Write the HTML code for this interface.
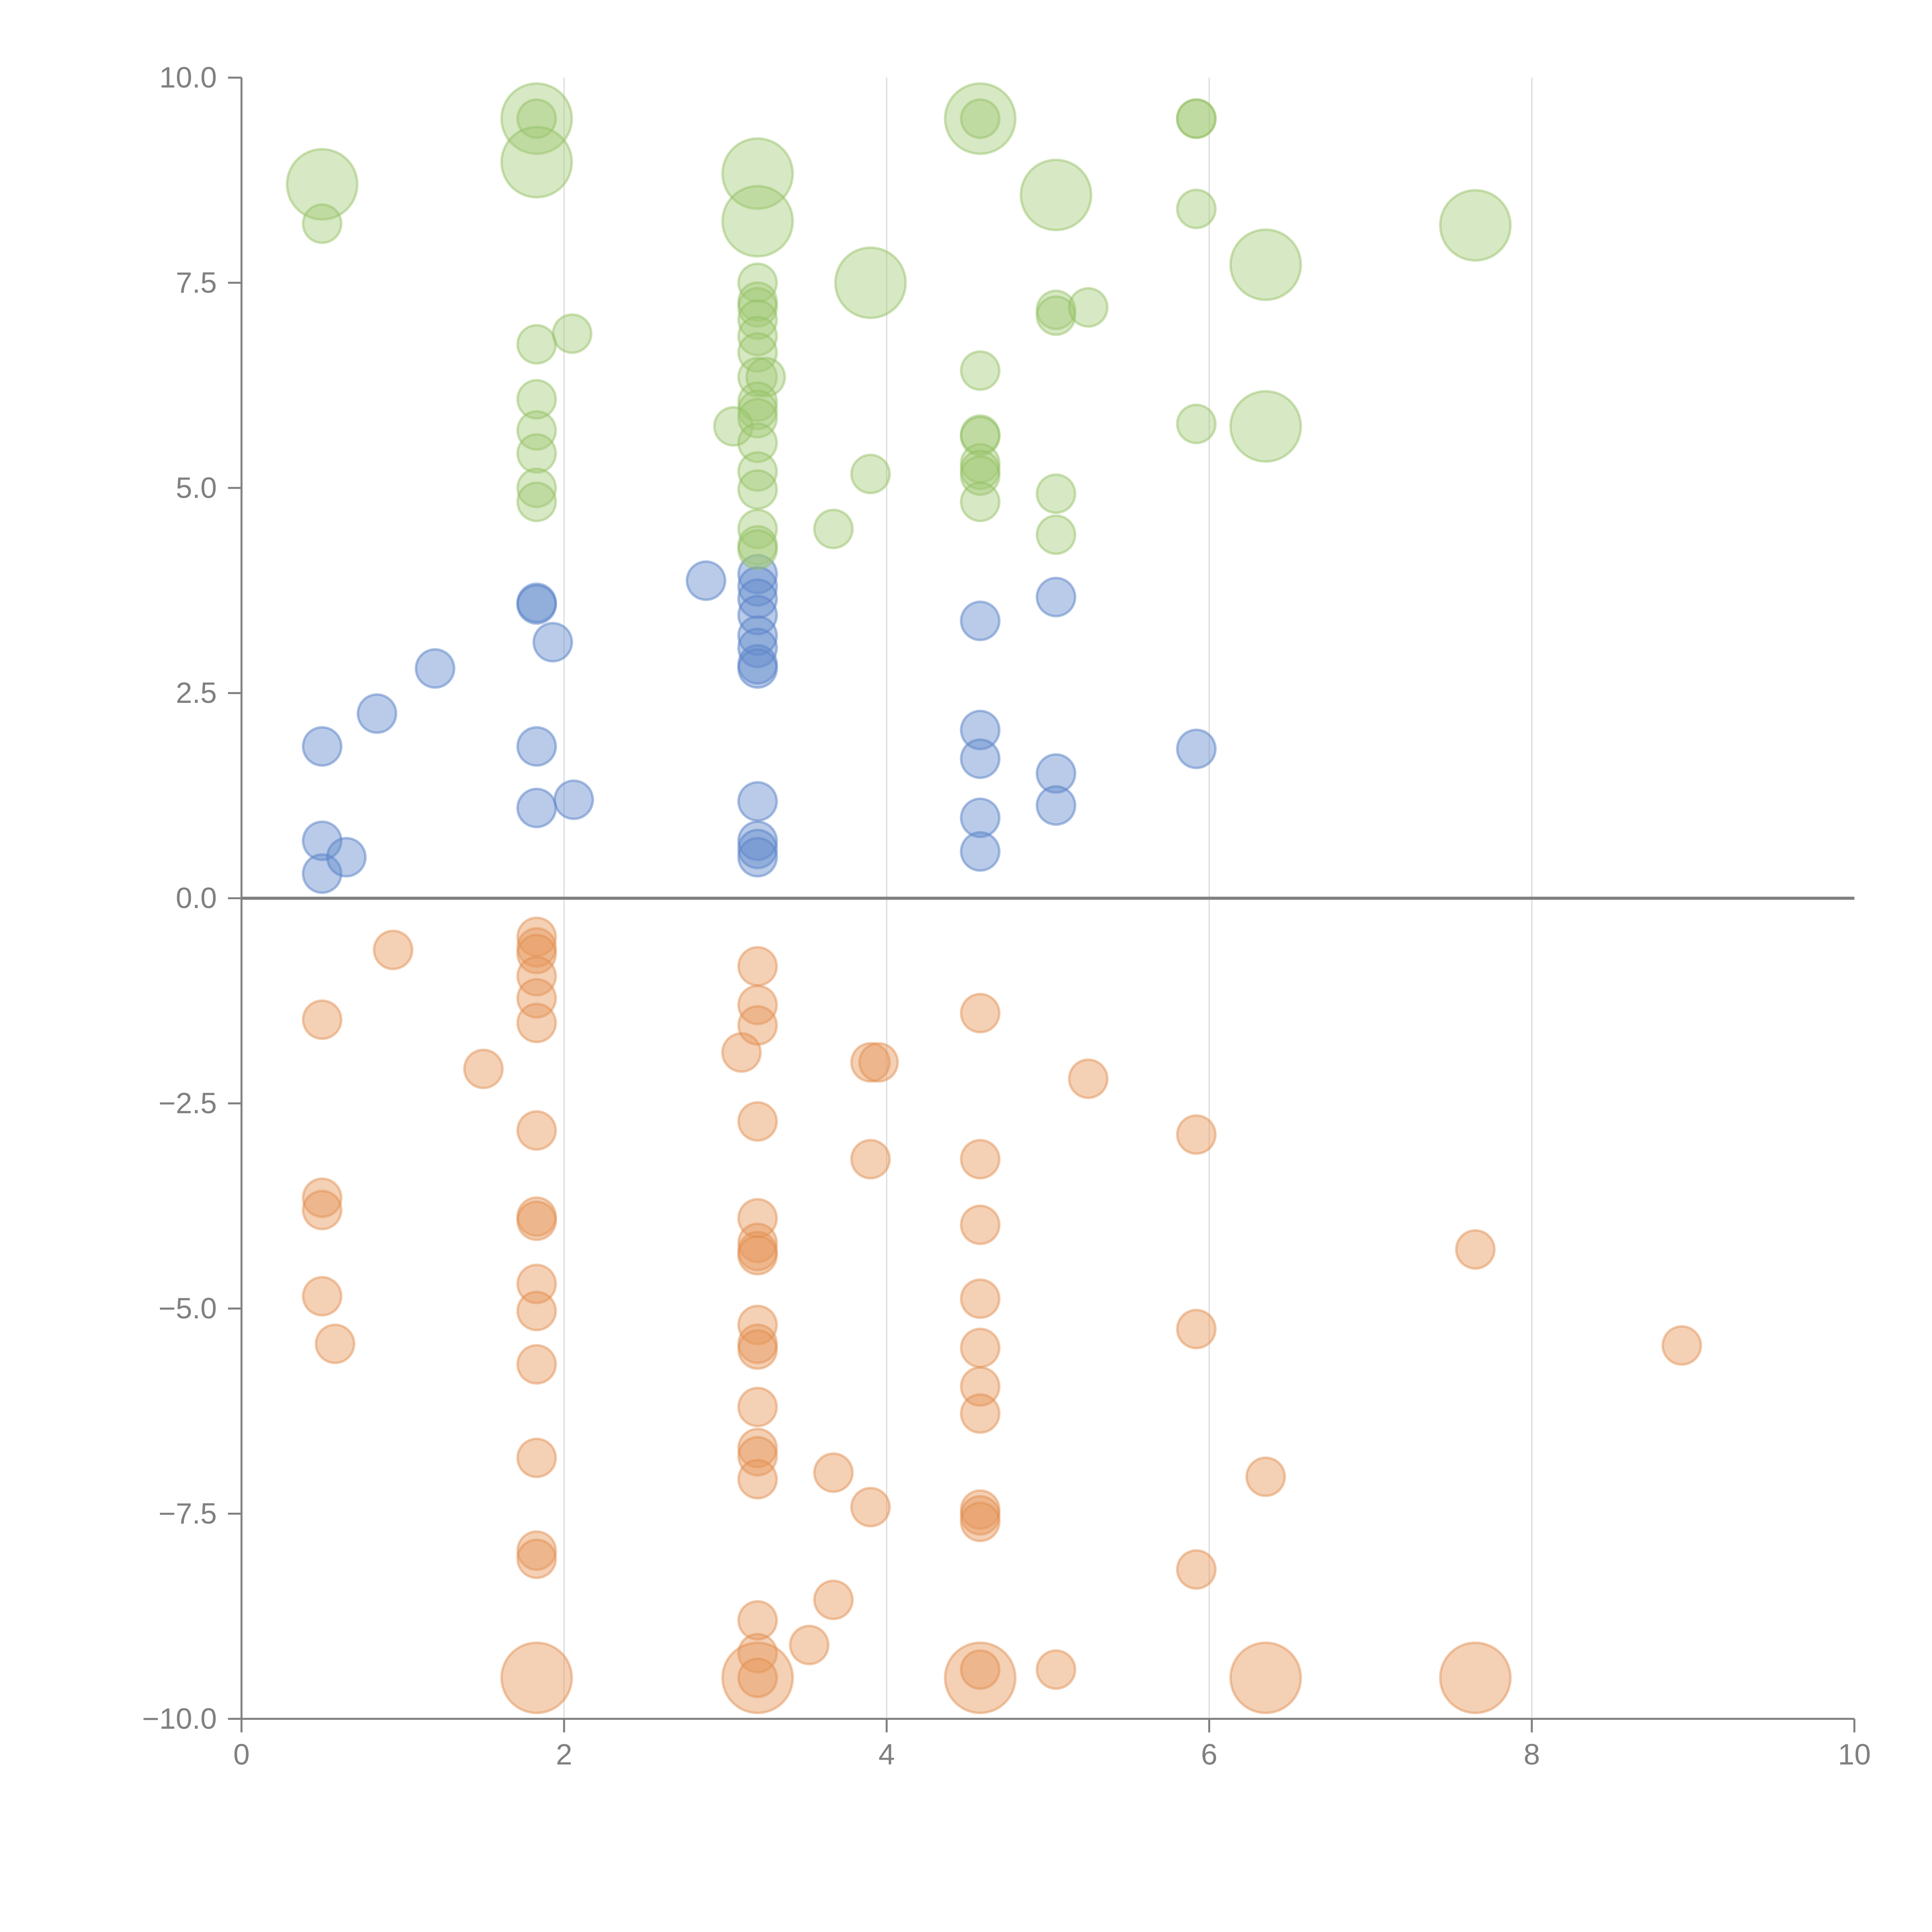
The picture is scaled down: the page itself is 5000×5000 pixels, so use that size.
<!DOCTYPE html>
<html><head><meta charset="utf-8"><style>
html,body{margin:0;padding:0;background:#fff;}
svg{display:block;}
text{font-family:"Liberation Sans",Arial,sans-serif;fill:#808080;}
</style></head><body>
<svg id="chart" width="5000" height="5000" viewBox="0 0 1568 1568" xmlns="http://www.w3.org/2000/svg">
<g id="grid"></g>
<g id="axes"></g>
<g id="marks"></g>
</svg>
<script>
const xTicks=[0,2,4,6,8,10];
const yTicks=[-10,-7.5,-5,-2.5,0,2.5,5,7.5,10];
const yTickLabels=["\u221210.0","\u22127.5","\u22125.0","\u22122.5","0.0","2.5","5.0","7.5","10.0"];
const greenX=[0.5,0.5,1.83,1.83,1.83,1.83,2.05,1.83,1.83,1.83,1.83,1.83,3.2,3.2,3.2,3.2,3.2,3.2,3.2,3.2,3.2,3.25,3.2,3.2,3.05,3.2,3.2,3.2,3.2,3.2,3.2,3.2,3.9,3.9,3.67,4.58,4.58,4.58,4.58,4.58,4.58,4.58,4.58,4.58,5.05,5.05,5.05,5.25,5.05,5.05,5.92,5.92,5.92,5.92,6.35,6.35,7.65];
const greenY=[8.7,8.22,9.5,9.5,8.97,6.75,6.88,6.08,5.7,5.42,5.0,4.83,8.83,8.25,7.5,7.27,7.2,7.05,6.85,6.65,6.35,6.35,6.05,5.95,5.75,5.85,5.55,5.2,4.98,4.5,4.3,4.25,7.5,5.17,4.5,9.5,9.5,6.43,5.65,5.63,5.3,5.22,5.15,4.83,8.57,7.17,7.1,7.2,4.93,4.43,9.5,9.5,8.4,5.78,7.72,5.75,8.2];
const greenBig=[1,0,1,0,1,0,0,0,0,0,0,0,1,1,0,0,0,0,0,0,0,0,0,0,0,0,0,0,0,0,0,0,1,0,0,1,0,0,0,0,0,0,0,0,1,0,0,0,0,0,0,0,0,0,1,1,1];
const blueX=[0.5,0.5,0.5,0.65,0.84,1.2,1.83,1.83,1.93,1.83,1.83,2.06,2.88,3.2,3.2,3.2,3.2,3.2,3.2,3.2,3.2,3.2,3.2,3.2,3.2,4.58,4.58,4.58,4.58,4.58,5.05,5.05,5.05,5.92];
const blueY=[1.85,0.7,0.3,0.5,2.25,2.8,3.6,3.58,3.12,1.85,1.1,1.2,3.87,3.95,3.8,3.65,3.45,3.2,3.05,2.85,2.8,1.18,0.7,0.6,0.5,3.38,2.05,1.7,0.98,0.57,3.67,1.52,1.13,1.82];
const orangeX=[0.5,0.5,0.5,0.5,0.58,0.94,1.5,1.83,1.83,1.83,1.83,1.83,1.83,1.83,1.83,1.83,1.83,1.83,1.83,1.83,1.83,1.83,1.83,3.2,3.2,3.2,3.1,3.2,3.2,3.2,3.2,3.2,3.2,3.2,3.2,3.2,3.2,3.2,3.2,3.2,3.2,3.2,3.2,3.52,3.67,3.67,3.9,3.9,3.9,3.95,4.58,4.58,4.58,4.58,4.58,4.58,4.58,4.58,4.58,4.58,4.58,4.58,5.05,5.25,5.92,5.92,5.92,6.35,6.35,7.65,7.65,8.93];
const orangeY=[-1.48,-3.65,-3.8,-4.85,-5.43,-0.63,-2.08,-0.47,-0.6,-0.68,-0.95,-1.22,-1.52,-2.83,-3.88,-3.93,-4.7,-5.03,-5.68,-6.82,-7.95,-8.05,-9.5,-0.83,-1.3,-1.55,-1.88,-2.72,-3.9,-4.2,-4.3,-4.35,-5.2,-5.43,-5.5,-6.2,-6.7,-6.8,-7.08,-8.8,-9.2,-9.5,-9.5,-9.1,-8.55,-7.0,-7.42,-3.18,-2.0,-2.0,-1.4,-3.18,-3.98,-4.88,-5.48,-5.95,-6.28,-7.45,-7.52,-7.6,-9.5,-9.4,-9.4,-2.2,-2.88,-5.25,-8.18,-7.05,-9.5,-4.28,-9.5,-5.45];
const orangeBig=[0,0,0,0,0,0,0,0,0,0,0,0,0,0,0,0,0,0,0,0,0,0,1,0,0,0,0,0,0,0,0,0,0,0,0,0,0,0,0,0,0,1,0,0,0,0,0,0,0,0,0,0,0,0,0,0,0,0,0,0,1,0,0,0,0,0,0,0,1,0,1,0];

const NS="http://www.w3.org/2000/svg";
const X0=196,X1=1505,Y0=1395,Y1=63;
function sx(v){return X0+(v-0)/(10-0)*(X1-X0);}
function sy(v){return Y0-(v+10)/20*(Y0-Y1);}
function mk(tag,attrs,parent){const e=document.createElementNS(NS,tag);for(const k in attrs)e.setAttribute(k,attrs[k]);parent.appendChild(e);return e;}
const grid=document.getElementById('grid'),axes=document.getElementById('axes'),marks=document.getElementById('marks');
xTicks.forEach(t=>{if(t>0&&t<10){const l=mk('line',{x1:sx(t),x2:sx(t),y1:Y1,y2:Y0,stroke:'#dcdcdc','stroke-width':1},grid);

}});
const ya=mk('line',{x1:X0,x2:X0,y1:Y1,y2:Y0,stroke:'#808080','stroke-width':1.6},axes);


const xa=mk('line',{x1:X0,x2:X1,y1:Y0,y2:Y0,stroke:'#808080','stroke-width':1.6},axes);


const z=mk('line',{x1:X0,x2:X1,y1:sy(0),y2:sy(0),stroke:'#808080','stroke-width':2.5},axes);


yTicks.forEach((t,i)=>{mk('line',{x1:X0-11,x2:X0,y1:sy(t),y2:sy(t),stroke:'#808080','stroke-width':1.6},axes);
const tx=mk('text',{x:X0-20,y:sy(t)+8,'text-anchor':'end','font-size':24},axes);tx.textContent=yTickLabels[i];

});
xTicks.forEach(t=>{mk('line',{x1:sx(t),x2:sx(t),y1:Y0,y2:Y0+11,stroke:'#808080','stroke-width':1.6},axes);
const tx=mk('text',{x:sx(t),y:Y0+37,'text-anchor':'middle','font-size':24},axes);tx.textContent=String(t);

});
function series(xs,ys,big,fill,stroke,name){
  const g=mk('g',{},marks);
  
  
  xs.forEach((x,i)=>{const r=(big&&big[i])?28.5:15.5;
    const c=mk('circle',{cx:sx(x),cy:sy(ys[i]),r:r,fill:fill,stroke:stroke,'stroke-width':2},g);
    
    });
}
series(orangeX,orangeY,orangeBig,'rgba(230,150,90,0.45)','rgba(225,140,75,0.45)','orange');
series(blueX,blueY,null,'rgba(100,140,205,0.45)','rgba(90,130,200,0.5)','blue');
series(greenX,greenY,greenBig,'rgba(160,200,115,0.42)','rgba(145,190,95,0.45)','green');
</script>
</body></html>
